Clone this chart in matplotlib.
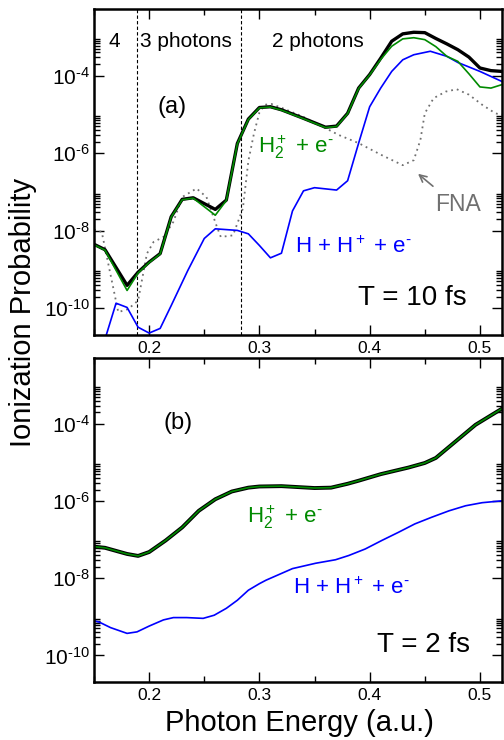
import numpy as np
import matplotlib
matplotlib.use("Agg")
import matplotlib.pyplot as plt
from matplotlib.ticker import FixedLocator, MultipleLocator, FuncFormatter

plt.rcParams['font.family'] = ['Liberation Sans', 'DejaVu Sans']
plt.rcParams['mathtext.fontset'] = 'custom'
plt.rcParams['mathtext.rm'] = 'Liberation Sans'
plt.rcParams['mathtext.it'] = 'Liberation Sans:italic'
plt.rcParams['mathtext.default'] = 'regular'

# ---- panel (a), T = 10 fs ----
energy_a = [0.15, 0.16, 0.18, 0.19, 0.20, 0.21, 0.22, 0.23, 0.24, 0.26, 0.27, 0.28,
            0.29, 0.30, 0.31, 0.32, 0.34, 0.36, 0.37, 0.38, 0.39, 0.40, 0.41, 0.42,
            0.43, 0.44, 0.45, 0.46, 0.47, 0.48, 0.49, 0.50, 0.51, 0.52]
total_a = [4.47e-9, 3.24e-9, 3.89e-10, 8.51e-10, 1.55e-9, 2.57e-9, 2.29e-8, 6.46e-8,
           7.08e-8, 3.55e-8, 6.17e-8, 1.78e-6, 7.59e-6, 1.51e-5, 1.58e-5, 1.32e-5,
           7.94e-6, 4.68e-6, 5.01e-6, 1.07e-5, 4.79e-5, 1.07e-4, 2.82e-4, 7.76e-4,
           1.20e-3, 1.32e-3, 1.29e-3, 9.12e-4, 6.61e-4, 4.68e-4, 3.02e-4, 1.58e-4,
           1.35e-4, 1.29e-4]
h2_a = [4.37e-9, 3.16e-9, 2.88e-10, 8.13e-10, 1.51e-9, 2.51e-9, 2.24e-8, 6.31e-8,
        6.92e-8, 2.51e-8, 6.03e-8, 1.74e-6, 7.41e-6, 1.48e-5, 1.55e-5, 1.29e-5,
        7.76e-6, 4.57e-6, 4.90e-6, 1.05e-5, 4.68e-5, 1.05e-4, 2.63e-4, 5.75e-4,
        8.91e-4, 9.55e-4, 8.51e-4, 5.62e-4, 3.16e-4, 2.34e-4, 1.12e-4, 5.13e-5,
        4.79e-5, 5.89e-5]

energy_diss_a = [0.16, 0.17, 0.18, 0.19, 0.20, 0.21, 0.22, 0.235, 0.25, 0.26, 0.28,
                 0.29, 0.30, 0.31, 0.32, 0.33, 0.34, 0.35, 0.37, 0.38, 0.39, 0.40,
                 0.41, 0.42, 0.43, 0.44, 0.455, 0.47, 0.48, 0.50, 0.52]
diss_a = [1.6e-11, 1.35e-10, 1.05e-10, 3.24e-11, 2.29e-11, 3.02e-11, 1.17e-10, 9.33e-10,
          6.31e-9, 1.12e-8, 1.02e-8, 8.32e-9, 4.17e-9, 2.00e-9, 2.63e-9, 3.24e-8,
          1.07e-7, 1.29e-7, 1.12e-7, 1.95e-7, 1.82e-6, 1.58e-5, 4.79e-5, 1.29e-4,
          2.57e-4, 3.47e-4, 4.27e-4, 3.16e-4, 2.19e-4, 1.29e-4, 7.08e-5]

energy_fna = [0.15, 0.157, 0.172, 0.181, 0.19, 0.198, 0.204, 0.213, 0.222, 0.23, 0.243,
              0.252, 0.261, 0.265, 0.276, 0.285, 0.29, 0.295, 0.30, 0.305, 0.311, 0.321,
              0.339, 0.357, 0.372, 0.39, 0.411, 0.43, 0.44, 0.446, 0.45, 0.458, 0.469,
              0.479, 0.49, 0.502, 0.514, 0.52]
fna_a = [1.07e-8, 9.33e-9, 7.94e-11, 9.55e-11, 1.58e-10, 2.57e-9, 5.13e-9, 6.92e-9,
         1.70e-8, 7.41e-8, 1.23e-7, 7.41e-8, 1.38e-8, 6.92e-9, 7.59e-9, 3.72e-8,
         6.31e-7, 3.16e-6, 1.12e-5, 1.78e-5, 1.86e-5, 1.45e-5, 8.91e-6, 4.90e-6,
         2.95e-6, 1.82e-6, 8.91e-7, 4.90e-7, 6.61e-7, 2.19e-6, 1.07e-5, 2.63e-5,
         3.89e-5, 4.47e-5, 3.24e-5, 1.78e-5, 1.07e-5, 9.77e-6]

thresholds = [0.189, 0.2835]

# ---- panel (b), T = 2 fs ----
energy_b = [0.15, 0.16, 0.17, 0.18, 0.19, 0.20, 0.215, 0.23, 0.245, 0.26, 0.275, 0.29,
            0.30, 0.32, 0.35, 0.365, 0.38, 0.39, 0.41, 0.435, 0.45, 0.46, 0.478, 0.496,
            0.52]
total_b = [6.61e-8, 6.17e-8, 5.13e-8, 4.27e-8, 3.80e-8, 4.79e-8, 9.55e-8, 2.09e-7,
           5.62e-7, 1.12e-6, 1.78e-6, 2.24e-6, 2.40e-6, 2.45e-6, 2.19e-6, 2.24e-6,
           2.82e-6, 3.39e-6, 5.01e-6, 7.41e-6, 9.77e-6, 1.32e-5, 3.55e-5, 9.55e-5,
           2.51e-4]
h2_b = total_b

energy_diss_b = [0.15, 0.155, 0.165, 0.18, 0.189, 0.20, 0.213, 0.222, 0.234, 0.249, 0.259,
                 0.27, 0.28, 0.29, 0.30, 0.306, 0.33, 0.351, 0.369, 0.381, 0.396, 0.411,
                 0.426, 0.441, 0.456, 0.472, 0.487, 0.502, 0.52]
diss_b = [7.94e-10, 7.24e-10, 5.25e-10, 3.72e-10, 4.07e-10, 5.75e-10, 8.32e-10, 9.55e-10,
          9.55e-10, 9.12e-10, 1.10e-9, 1.66e-9, 2.69e-9, 4.90e-9, 7.24e-9, 8.91e-9,
          1.78e-8, 2.45e-8, 3.02e-8, 3.89e-8, 5.75e-8, 9.55e-8, 1.55e-7, 2.57e-7,
          3.80e-7, 5.62e-7, 7.59e-7, 9.12e-7, 1.02e-6]

GREEN = '#008a00'
BLUE = '#0000ff'
GRAY = '#707070'
HY = '\u2010'   # short hyphen, as in the original superscripts

label_h2 = 'H$_2^+$ + e$^{' + HY + '}$'
label_diss = 'H + H$^+$ + e$^{' + HY + '}$'


def pow_label(v, pos):
    e = int(round(np.log10(v)))
    return '$10^{' + HY + str(abs(e)) + '}$'


def style_axis(ax):
    ax.set_yscale('log')
    ax.set_xlim(0.15, 0.52)
    ax.set_ylim(10 ** -10.69, 10 ** -2.28)
    ax.xaxis.set_major_locator(MultipleLocator(0.1))
    ax.xaxis.set_minor_locator(MultipleLocator(0.05))
    ax.yaxis.set_major_locator(FixedLocator([1e-10, 1e-8, 1e-6, 1e-4]))
    minors = [k * 10.0 ** n for n in (-10, -8, -6, -4) for k in range(2, 10)]
    ax.yaxis.set_minor_locator(FixedLocator(minors))
    ax.yaxis.set_major_formatter(FuncFormatter(pow_label))
    ax.yaxis.set_minor_formatter(plt.NullFormatter())
    ax.tick_params(which='both', direction='in', top=True, right=True, width=1.0)
    ax.tick_params(which='major', length=7.5)
    ax.tick_params(which='minor', length=4)
    ax.tick_params(axis='x', which='major', labelsize=12.5, pad=4)
    ax.tick_params(axis='y', which='major', labelsize=15, pad=3)
    for s in ax.spines.values():
        s.set_linewidth(1.8)


fig = plt.figure(figsize=(5.04, 7.40), dpi=100)
ax1 = fig.add_axes([0.1865, 0.5473, 0.8095, 0.4405])
ax2 = fig.add_axes([0.1865, 0.0784, 0.8095, 0.4382])

# panel (a)
for x0 in thresholds:
    ax1.axvline(x0, color='black', lw=0.8, linestyle=(0, (3, 2)))
ax1.plot(energy_fna, fna_a, color=GRAY, lw=1.3, linestyle=(0, (1, 2.2)))
ax1.plot(energy_diss_a, diss_a, color=BLUE, lw=1.2)
ax1.plot(energy_a, total_a, color='black', lw=2.4)
ax1.plot(energy_a, h2_a, color=GREEN, lw=1.2)
style_axis(ax1)

ax1.text(0.051, 0.90, '4', transform=ax1.transAxes, ha='center', va='center', fontsize=15)
ax1.text(0.113, 0.90, '3 photons', transform=ax1.transAxes, ha='left', va='center', fontsize=15)
ax1.text(0.436, 0.90, '2 photons', transform=ax1.transAxes, ha='left', va='center', fontsize=15)
ax1.text(0.191, 0.70, '(a)', transform=ax1.transAxes, ha='center', va='center', fontsize=17)
ax1.text(0.402, 0.575, label_h2, transform=ax1.transAxes, ha='left', va='center',
         fontsize=16, color=GREEN)
ax1.text(0.493, 0.27, label_diss, transform=ax1.transAxes, ha='left', va='center',
         fontsize=16, color=BLUE)
ax1.text(0.836, 0.399, 'FNA', transform=ax1.transAxes, ha='left', va='center',
         fontsize=16.5, color=GRAY)
ax1.annotate('', xy=(0.789, 0.50), xytext=(0.836, 0.451), xycoords='axes fraction',
             arrowprops=dict(arrowstyle='->,head_length=0.5,head_width=0.25',
                             color=GRAY, lw=1.2))
ax1.text(0.647, 0.113, 'T = 10 fs', transform=ax1.transAxes, ha='left', va='center', fontsize=20)

# panel (b)
ax2.plot(energy_diss_b, diss_b, color=BLUE, lw=1.2)
ax2.plot(energy_b, total_b, color='black', lw=2.8)
ax2.plot(energy_b, h2_b, color=GREEN, lw=1.2)
style_axis(ax2)

ax2.text(0.206, 0.80, '(b)', transform=ax2.transAxes, ha='center', va='center', fontsize=17)
ax2.text(0.375, 0.509, label_h2, transform=ax2.transAxes, ha='left', va='center',
         fontsize=16, color=GREEN)
ax2.text(0.488, 0.29, label_diss, transform=ax2.transAxes, ha='left', va='center',
         fontsize=16, color=BLUE)
ax2.text(0.694, 0.114, 'T = 2 fs', transform=ax2.transAxes, ha='left', va='center', fontsize=20)

fig.text(0.046, 0.578, 'Ionization Probability', rotation=90, ha='center', va='center',
         fontsize=21)
fig.text(0.595, 0.023, 'Photon Energy (a.u.)', ha='center', va='center', fontsize=21)

fig.savefig('out.png', dpi=100)
